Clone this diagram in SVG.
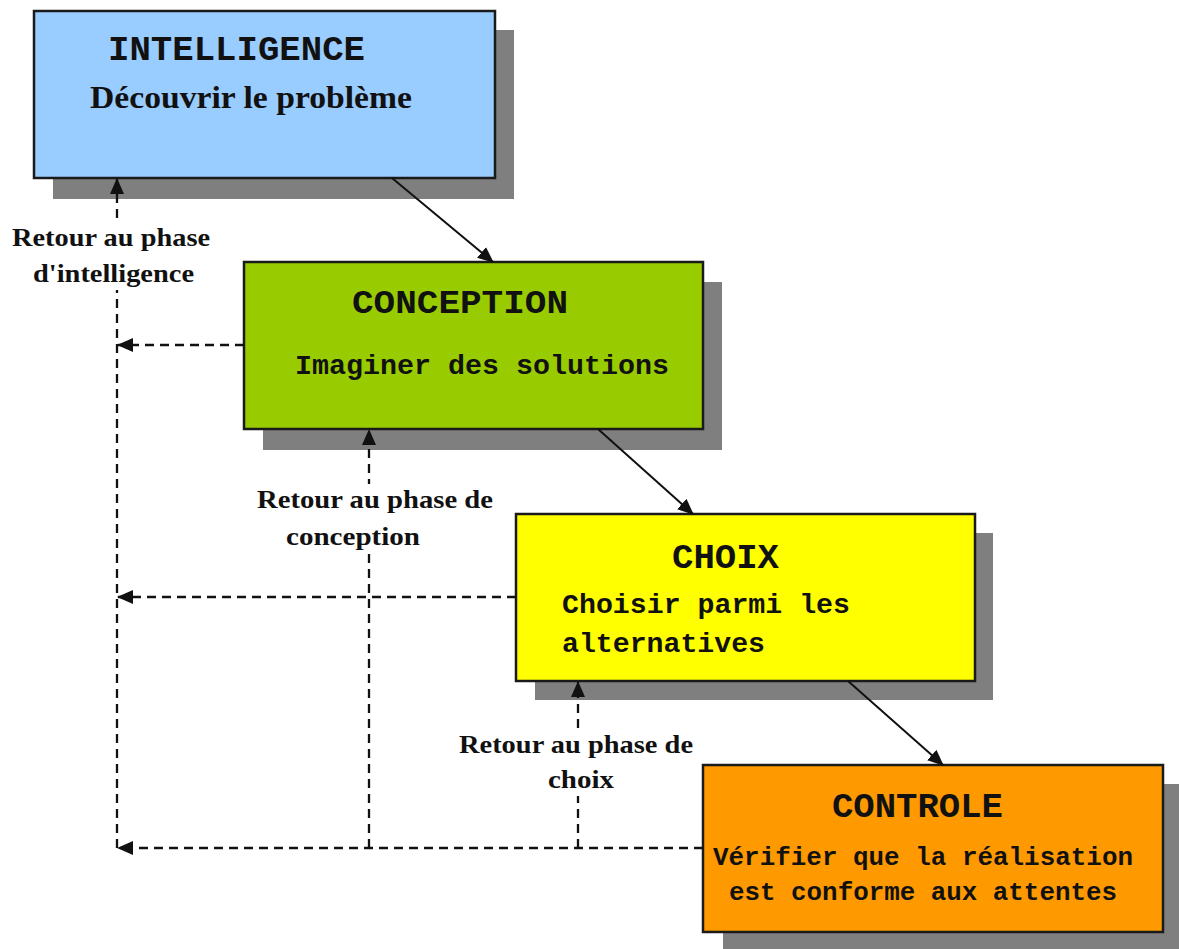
<svg xmlns="http://www.w3.org/2000/svg" width="1179" height="949" viewBox="0 0 1179 949">
<defs>
<style>
.shadow{fill:#7f7f7f}
.box{stroke:#1a1a1a;stroke-width:2.5}
.mono{font-family:"Liberation Mono","Courier New",monospace;font-weight:bold;fill:#111}
.serif{font-family:"Liberation Serif","Times New Roman",serif;font-weight:bold;fill:#111}
.lbl{font-family:"Liberation Serif","Times New Roman",serif;font-weight:bold;fill:#111;font-size:25px}
.solid{stroke:#111;stroke-width:2;fill:none}
.dash{stroke:#111;stroke-width:2.3;fill:none;stroke-dasharray:9,6}
</style>
<marker id="ah" markerWidth="16" markerHeight="14" refX="15" refY="7" orient="auto" markerUnits="userSpaceOnUse">
<path d="M0,0 L16,7 L0,14 Z" fill="#111"/>
</marker>
</defs>
<rect width="1179" height="949" fill="#fff"/>

<g id="intelligence">
<rect class="shadow" x="53" y="30" width="461" height="169"/>
<rect class="box" x="34" y="11" width="461" height="167" fill="#99ccff"/>
<text class="mono" x="108" y="60" font-size="35" textLength="257" lengthAdjust="spacingAndGlyphs">INTELLIGENCE</text>
<text class="serif" x="90" y="108" font-size="32" textLength="322" lengthAdjust="spacingAndGlyphs">Découvrir le problème</text>
</g>

<g id="conception">
<rect class="shadow" x="263" y="282" width="459" height="168"/>
<rect class="box" x="244" y="262" width="459" height="167" fill="#99cc00"/>
<text class="mono" x="352" y="313" font-size="34" textLength="216" lengthAdjust="spacingAndGlyphs">CONCEPTION</text>
<text class="mono" x="295" y="374" font-size="28" textLength="374" lengthAdjust="spacingAndGlyphs">Imaginer des solutions</text>
</g>

<g id="choix">
<rect class="shadow" x="535" y="533" width="458" height="167"/>
<rect class="box" x="516" y="514" width="459" height="167" fill="#ffff00"/>
<text class="mono" x="672" y="568" font-size="35" textLength="107" lengthAdjust="spacingAndGlyphs">CHOIX</text>
<text class="mono" x="562" y="613" font-size="28" textLength="288" lengthAdjust="spacingAndGlyphs">Choisir parmi les</text>
<text class="mono" x="562" y="652" font-size="28" textLength="203" lengthAdjust="spacingAndGlyphs">alternatives</text>
</g>

<g id="controle">
<rect class="shadow" x="723" y="784" width="456" height="165"/>
<rect class="box" x="703" y="765" width="460" height="167" fill="#ff9900"/>
<text class="mono" x="832" y="817" font-size="35" textLength="171" lengthAdjust="spacingAndGlyphs">CONTROLE</text>
<text class="mono" x="713" y="865" font-size="26" textLength="420" lengthAdjust="spacingAndGlyphs">Vérifier que la réalisation</text>
<text class="mono" x="729" y="900" font-size="26" textLength="388" lengthAdjust="spacingAndGlyphs">est conforme aux attentes</text>
</g>

<g id="connectors">
<line class="solid" x1="392" y1="178" x2="493" y2="262" marker-end="url(#ah)"/>
<line class="solid" x1="598" y1="429" x2="693" y2="514" marker-end="url(#ah)"/>
<line class="solid" x1="848" y1="681" x2="943" y2="765" marker-end="url(#ah)"/>
<line class="dash" x1="117" y1="848" x2="117" y2="179" marker-end="url(#ah)"/>
<line class="dash" x1="244" y1="345" x2="118" y2="345" marker-end="url(#ah)"/>
<line class="dash" x1="516" y1="597" x2="118" y2="597" marker-end="url(#ah)"/>
<line class="dash" x1="703" y1="848" x2="118" y2="848" marker-end="url(#ah)"/>
<line class="dash" x1="369" y1="848" x2="369" y2="430" marker-end="url(#ah)"/>
<line class="dash" x1="578" y1="848" x2="578" y2="682" marker-end="url(#ah)"/>
</g>

<g id="labels">
<rect x="8" y="224" width="206" height="66" fill="#fff"/>
<text class="lbl" x="12" y="246" textLength="198" lengthAdjust="spacingAndGlyphs">Retour au phase</text>
<text class="lbl" x="33" y="282" textLength="161" lengthAdjust="spacingAndGlyphs">d'intelligence</text>
<rect x="253" y="484" width="244" height="70" fill="#fff"/>
<text class="lbl" x="257" y="508" textLength="236" lengthAdjust="spacingAndGlyphs">Retour au phase de</text>
<text class="lbl" x="286" y="545" textLength="134" lengthAdjust="spacingAndGlyphs">conception</text>
<rect x="455" y="730" width="242" height="66" fill="#fff"/>
<text class="lbl" x="459" y="753" textLength="234" lengthAdjust="spacingAndGlyphs">Retour au phase de</text>
<text class="lbl" x="548" y="788" textLength="66" lengthAdjust="spacingAndGlyphs">choix</text>
</g>
</svg>
